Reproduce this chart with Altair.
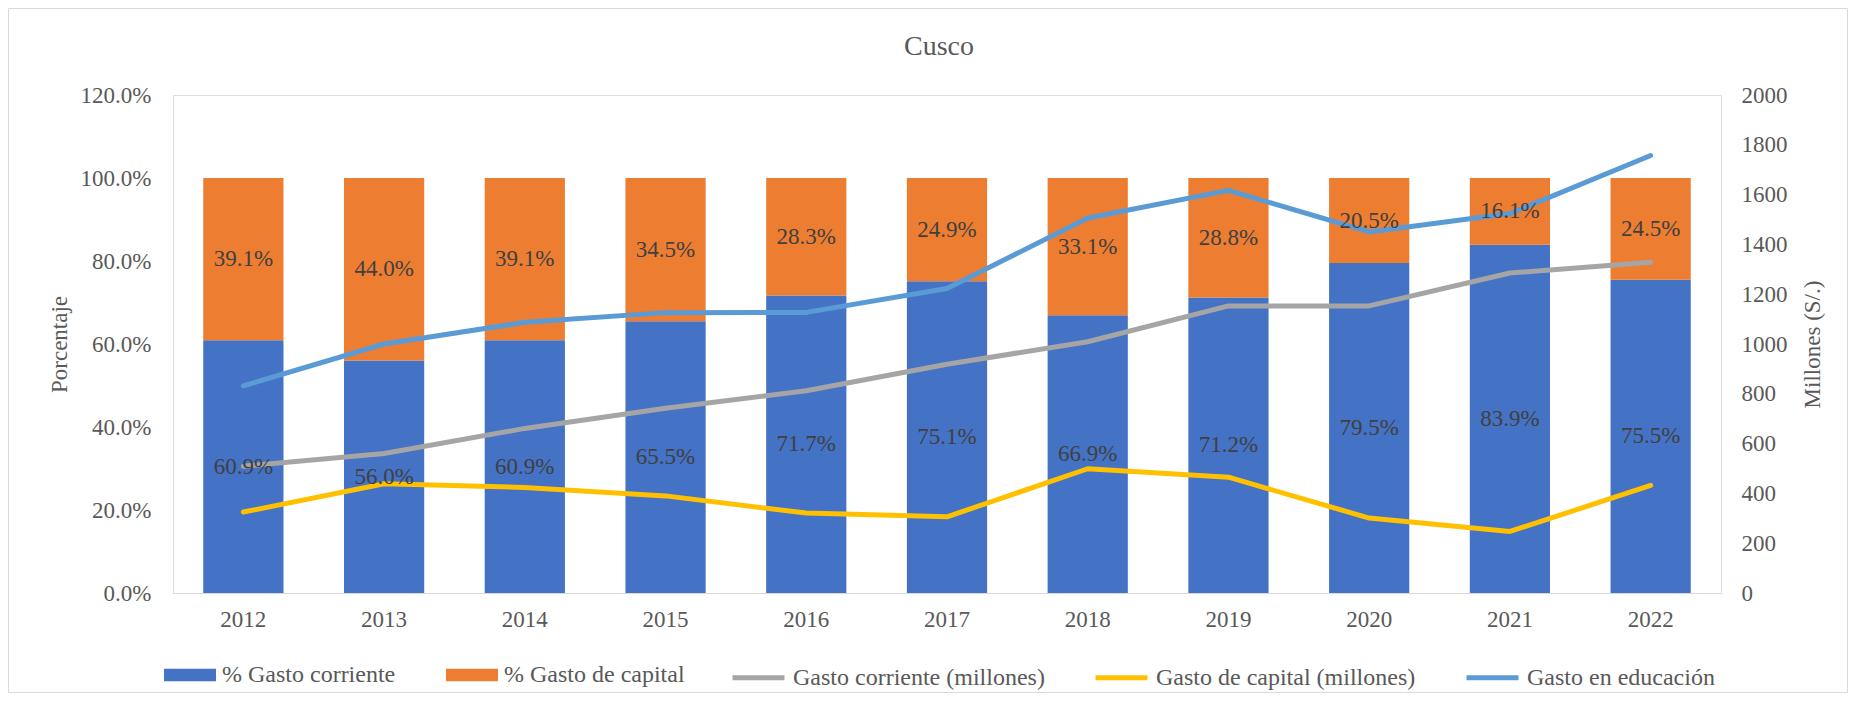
import altair as alt
import pandas as pd

FONT = "Liberation Serif"

anios = ["2012", "2013", "2014", "2015", "2016", "2017", "2018", "2019", "2020", "2021", "2022"]
pct_corriente = [60.9, 56.0, 60.9, 65.5, 71.7, 75.1, 66.9, 71.2, 79.5, 83.9, 75.5]
pct_capital = [39.1, 44.0, 39.1, 34.5, 28.3, 24.9, 33.1, 28.8, 20.5, 16.1, 24.5]
gasto_corriente = [509, 560, 661, 742, 812, 919, 1009, 1153, 1153, 1285, 1328]
gasto_capital = [325, 439, 424, 390, 321, 306, 499, 465, 301, 247, 432]
gasto_educacion = [832, 1000, 1087, 1126, 1127, 1223, 1506, 1617, 1450, 1524, 1757]

series_barras = ["% Gasto corriente", "% Gasto de capital"]
series_lineas = ["Gasto corriente (millones)", "Gasto de capital (millones)", "Gasto en educación"]
colores_barras = ["#4472C4", "#ED7D31"]
colores_lineas = ["#A5A5A5", "#FFC000", "#5B9BD5"]

left_ticks = [0, 0.2, 0.4, 0.6, 0.8, 1.0, 1.2]
right_ticks = [0, 200, 400, 600, 800, 1000, 1200, 1400, 1600, 1800, 2000]

rows_b = []
for i, a in enumerate(anios):
    rows_b.append({"anio": a, "serie": series_barras[0], "valor": pct_corriente[i] / 100, "orden": 0})
    rows_b.append({"anio": a, "serie": series_barras[1], "valor": pct_capital[i] / 100, "orden": 1})
bars_df = pd.DataFrame(rows_b)

rows_l = []
for i, a in enumerate(anios):
    rows_l.append({"anio": a, "serie": series_lineas[0], "valor": gasto_corriente[i]})
    rows_l.append({"anio": a, "serie": series_lineas[1], "valor": gasto_capital[i]})
    rows_l.append({"anio": a, "serie": series_lineas[2], "valor": gasto_educacion[i]})
lines_df = pd.DataFrame(rows_l)

W, H = 1548, 498

x = alt.X(
    "anio:N",
    sort=anios,
    scale=alt.Scale(paddingInner=0.43, paddingOuter=0.215),
    axis=alt.Axis(
        title=None, labelAngle=0, ticks=False, tickSize=0, domainColor="#D9D9D9",
        domainWidth=1, labelFontSize=23, labelColor="#595959", labelFont=FONT,
        labelPadding=15, grid=False,
    ),
)

yleft_scale = alt.Scale(domain=[0, 1.2], nice=False)

bars = alt.Chart(bars_df).mark_bar().encode(
    x=x,
    y=alt.Y(
        "valor:Q", stack="zero", scale=yleft_scale,
        axis=alt.Axis(
            values=left_ticks, format=".1%", title="Porcentaje", grid=False, domain=False,
            ticks=False, tickSize=0, labelFontSize=23, labelColor="#595959", labelFont=FONT,
            labelPadding=22, titleFontSize=23, titleColor="#595959", titleFont=FONT,
            titleFontWeight="normal", titleX=-114, titleY=H / 2, titleAngle=270,
            titleAlign="center", titleBaseline="middle",
        ),
    ),
    color=alt.Color(
        "serie:N",
        scale=alt.Scale(domain=series_barras, range=colores_barras),
        legend=alt.Legend(
            title=None, orient="none", direction="horizontal", legendX=-9, legendY=554,
            symbolType="M-1,-0.24L1,-0.24L1,0.24L-1,0.24Z", symbolSize=2704,
            symbolStrokeWidth=0, symbolOpacity=1, labelFontSize=24, labelFont=FONT,
            labelColor="#595959", labelOffset=6, columnPadding=50, labelLimit=500,
        ),
    ),
    order=alt.Order("orden:Q"),
)

lines = alt.Chart(lines_df).mark_line(strokeWidth=5, strokeCap="round", strokeJoin="round").encode(
    x=x,
    y=alt.Y(
        "valor:Q", scale=alt.Scale(domain=[0, 2000], nice=False),
        axis=alt.Axis(
            orient="right", values=right_ticks, format="d", title="Millones  (S/.)", grid=False,
            domain=False, ticks=False, tickSize=0, labelFontSize=23, labelColor="#595959",
            labelFont=FONT, labelPadding=20, titleFontSize=23, titleColor="#595959",
            titleFont=FONT, titleFontWeight="normal", titleX=91, titleY=H / 2,
            titleAngle=270, titleAlign="center", titleBaseline="middle",
        ),
    ),
    stroke=alt.Stroke(
        "serie:N",
        scale=alt.Scale(domain=series_lineas, range=colores_lineas),
        legend=alt.Legend(
            title=None, orient="none", direction="horizontal", legendX=557, legendY=554,
            symbolType="stroke", symbolSize=2704, symbolStrokeWidth=5,
            labelFontSize=24, labelFont=FONT, labelColor="#595959", labelOffset=6,
            columnPadding=40, labelLimit=500,
        ),
    ),
    detail="serie:N",
)

text = alt.Chart(bars_df).transform_stack(
    stack="valor", groupby=["anio"], sort=[alt.SortField("orden")], as_=["v0", "v1"]
).transform_calculate(
    mid="(datum.v0 + datum.v1) / 2"
).mark_text(font=FONT, fontSize=23, color="#404040", baseline="middle").encode(
    x=x,
    y=alt.Y("mid:Q", scale=yleft_scale, axis=None),
    text=alt.Text("valor:Q", format=".1%"),
)

frame = alt.Chart(pd.DataFrame({"k": [0]})).mark_rect(
    fill="transparent", stroke="#D9D9D9", strokeWidth=1
).encode(
    x=alt.value(-164.5), x2=alt.value(1674.5), y=alt.value(-86.5), y2=alt.value(597.5)
)

chart = alt.layer(bars, lines, text, frame).resolve_scale(
    y="independent", color="independent"
).properties(
    width=W, height=H,
    title=alt.Title("Cusco", fontSize=28, font=FONT, fontWeight="normal", color="#595959",
                    anchor="middle", offset=0, dy=53, dx=-8, frame="group"),
    autosize=alt.AutoSizeParams(type="none"),
    padding={"left": 165, "top": 87, "right": 127, "bottom": 100},
).configure_view(strokeWidth=0).configure(font=FONT)

chart.save("out.html", embed_options={"renderer": "svg", "actions": False})
